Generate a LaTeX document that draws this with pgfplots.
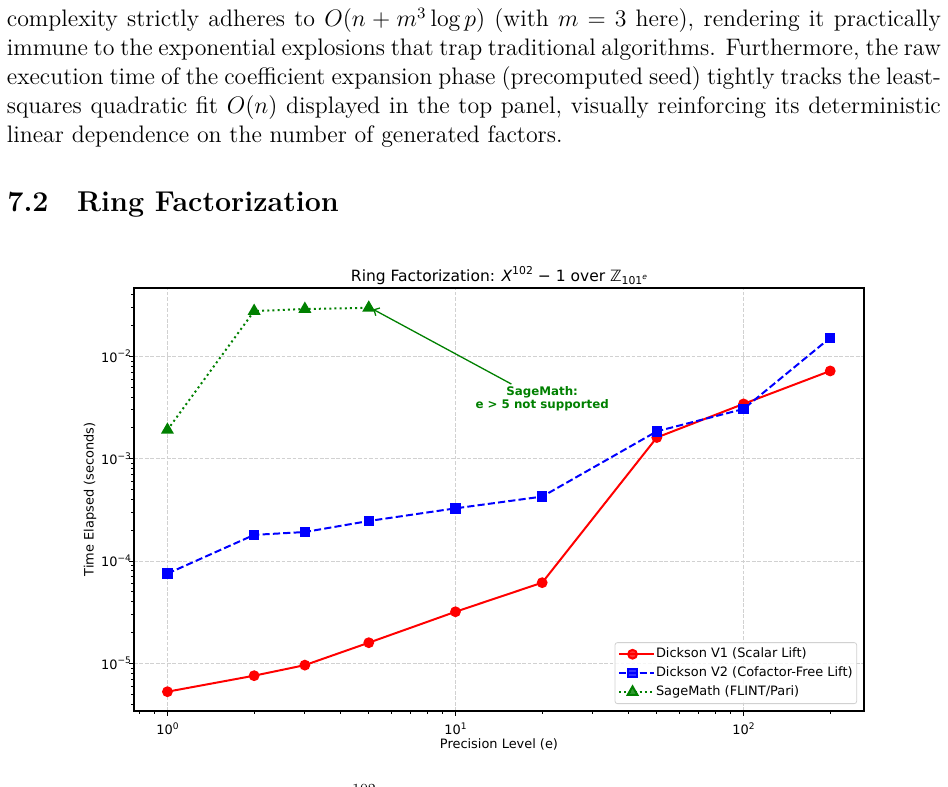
\documentclass[border=0pt]{standalone}
\usepackage{pgfplots}
\pgfplotsset{compat=1.18}
\usepackage{fontspec}
\usetikzlibrary{arrows.meta}
\newfontfamily\dejavu{DejaVu Sans}
\definecolor{mplgreen}{RGB}{0,128,0}
\newcommand\tsup[1]{\raisebox{2.7pt}{\fontsize{4.55}{5}\selectfont #1}}
\newcommand\ttsup[1]{\raisebox{3.3pt}{\fontsize{5.46}{6}\selectfont #1}}
\newcommand\ttsub[1]{\raisebox{-1.3pt}{\fontsize{5.46}{6}\selectfont #1}}
\newcommand\ttsubsup[1]{\raisebox{2.2pt}{\fontsize{3.8}{4}\selectfont\itshape #1}}
\begin{document}
\begin{tikzpicture}
\useasboundingbox (0,0) rectangle (476.80pt,395.82pt);
% paragraph
\node[anchor=base west, inner sep=0] at (3.27pt,382.39pt) {\parbox[t]{469.75pt}{\fontsize{12}{14.5}\selectfont\noindent
complexity strictly adheres to $O(n + m^3 \log p)$ (with $m = 3$ here), rendering it practically\linebreak
immune to the exponential explosions that trap traditional algorithms. Furthermore, the raw\linebreak
execution time of the coefficient expansion phase (precomputed seed) tightly tracks the least-\linebreak
squares quadratic fit $O(n)$ displayed in the top panel, visually reinforcing its deterministic\linebreak
linear dependence on the number of generated factors.}};
% heading
\node[anchor=base west, inner sep=0] at (3.52pt,289.2pt) {\fontsize{14.4}{18}\selectfont\bfseries 7.2\quad Ring Factorization};
% fragment of next line (cut by the page edge, as in the reference)
\begin{scope}
\clip (0,0) rectangle (476.80pt,395.82pt);
\node[anchor=base, inner sep=0] at (183.07pt,-3.52pt) {$\scriptstyle 102$};
\end{scope}
\begin{axis}[
  at={(67.40pt,38.22pt)}, anchor=south west,
  scale only axis, width=367.15pt, height=212.75pt,
  xmode=log, ymode=log,
  xmin=0.7656, xmax=262, ymin=3.42e-6, ymax=0.04656,
  xtick={1,10,100},
  xticklabels={{10\tsup{0}},{10\tsup{1}},{10\tsup{2}}},
  ytick={1e-5,1e-4,1e-3,1e-2},
  yticklabels={{10\tsup{−5}},{10\tsup{−4}},{10\tsup{−3}},{10\tsup{−2}}},
  minor xtick={0.8,0.9,2,3,4,5,6,7,8,9,20,30,40,50,60,70,80,90,200},
  minor ytick={4e-6,5e-6,6e-6,7e-6,8e-6,9e-6,2e-5,3e-5,4e-5,5e-5,6e-5,7e-5,8e-5,9e-5,2e-4,3e-4,4e-4,5e-4,6e-4,7e-4,8e-4,9e-4,2e-3,3e-3,4e-3,5e-3,6e-3,7e-3,8e-3,9e-3,2e-2,3e-2,4e-2},
  tick align=outside, tick pos=left,
  major tick length=2.3pt, minor tick length=1.3pt,
  every tick/.style={black, line width=0.45pt},
  axis line style={line width=0.52pt},
  grid=major,
  major grid style={dash pattern=on 1.9pt off 0.85pt, line width=0.4pt, color=black!18},
  ticklabel style={font=\dejavu\fontsize{6.5}{7.8}\selectfont},
  yticklabel style={xshift=4.3pt},
  title={Ring Factorization: {\itshape X}\ttsup{102} − 1 over ℤ\ttsub{101\ttsubsup{e}}},
  every axis title/.style={at={(axis description cs:0.5,1)}, anchor=base, yshift=3.3pt, font=\dejavu\fontsize{7.8}{9}\selectfont},
  xlabel={Precision Level (e)},
  ylabel={Time Elapsed (seconds)},
  every axis x label/.style={at={(axis description cs:0.5,0)}, anchor=base, yshift=-19pt, font=\dejavu\fontsize{6.5}{7.8}\selectfont},
  every axis y label/.style={at={(axis description cs:-0.0603,0.5)}, rotate=90, anchor=center, font=\dejavu\fontsize{6.5}{7.8}\selectfont},
  legend cell align=left,
  legend image code/.code={%
    \draw[mark repeat=2,mark phase=2,#1] plot coordinates {(0pt,0pt) (6.8pt,0pt) (13.6pt,0pt)};
    \path (0pt,0pt) -- (17.6pt,0pt);},
  legend style={at={(axis description cs:1,0)}, anchor=south east, xshift=-3.5pt, yshift=3.5pt,
    draw=black!18, line width=0.4pt, rounded corners=1.2pt, fill=white, fill opacity=0.8, text opacity=1,
    font=\dejavu\fontsize{6.5}{7.8}\selectfont, inner xsep=1.5pt, inner ysep=1.6pt, row sep=1pt,
    nodes={inner xsep=0.5pt, inner ysep=1pt, text height=5pt, text depth=1.5pt}},
]
\addplot[color=red, line width=1pt, mark=*, mark size=2.2pt, mark options={solid}]
  coordinates {(1,5.28e-6)(2,7.57e-6)(3,9.6e-6)(5,1.59e-5)(10,3.19e-5)(20,6.14e-5)(50,1.61e-3)(100,3.43e-3)(200,7.2e-3)};
\addlegendentry{Dickson V1 (Scalar Lift)}
\addplot[color=blue, line width=1pt, dash pattern=on 3.6pt off 1.6pt, mark=square*, mark size=2.1pt, mark options={solid}]
  coordinates {(1,7.53e-5)(2,1.80e-4)(3,1.92e-4)(5,2.46e-4)(10,3.27e-4)(20,4.26e-4)(50,1.85e-3)(100,3.06e-3)(200,1.52e-2)};
\addlegendentry{Dickson V2 (Cofactor-Free Lift)}
\addplot[color=mplgreen, line width=1pt, dash pattern=on 1pt off 1.6pt, mark=triangle*, mark size=2.8pt, mark options={solid}]
  coordinates {(1,1.91e-3)(2,2.77e-2)(3,2.90e-2)(5,2.98e-2)};
\addlegendentry{SageMath (FLINT/Pari)}
\node[font=\dejavu\bfseries\fontsize{5.95}{6.74}\selectfont, text=mplgreen, align=center, inner sep=0] at (axis cs:20,3.83e-3) {SageMath:\\e > 5 not supported};
\draw[mplgreen, line width=0.65pt, -{Straight Barb[length=2.2pt,width=4.4pt]}] (axis cs:15.64,5.36e-3) -- (axis cs:5.18,0.0288);
\end{axis}
\end{tikzpicture}
\end{document}
